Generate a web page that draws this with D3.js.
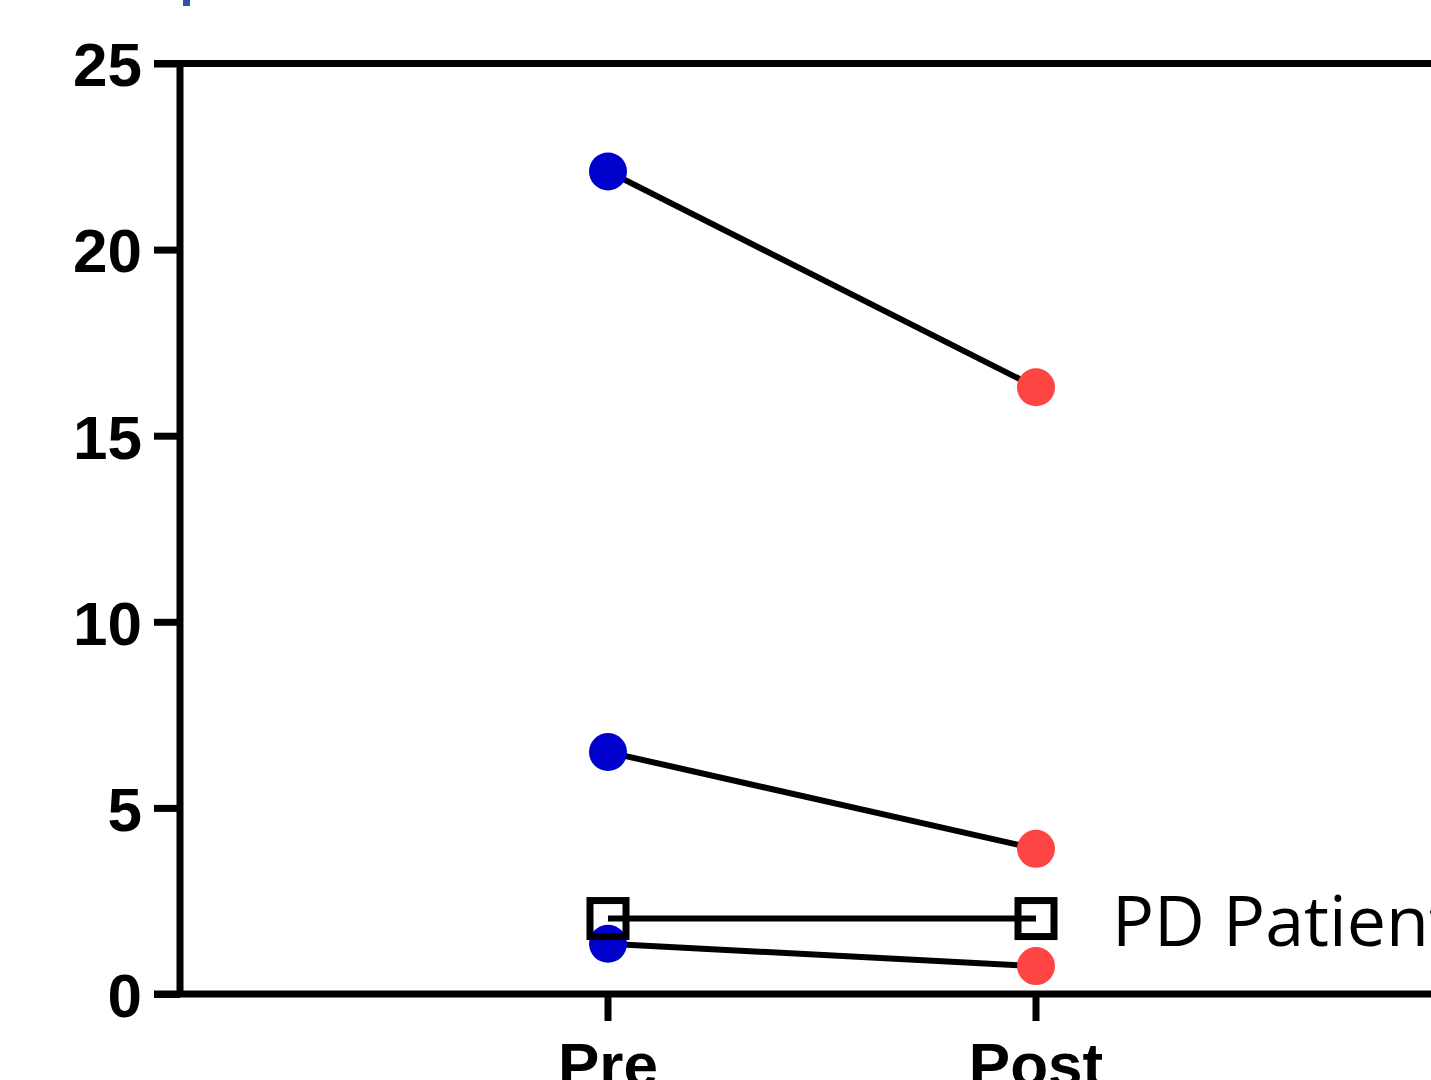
<!DOCTYPE html>
<html lang="en">
<head>
    <meta charset="UTF-8">
    <title>Pre vs Post</title>
    <script src="https://d3js.org/d3.v7.min.js"></script>
    <style>
        html, body { margin: 0; padding: 0; background: #fff; overflow: hidden; }
        svg { display: block; }
    </style>
</head>
<body>
    <div id="chart"></div>
    <script>
        // data
        var categories = ["Pre", "Post"];
        var preValues = [22.1, 6.5, 1.35];
        var postValues = [16.3, 3.9, 0.75];
        var yTicks = [0, 5, 10, 15, 20, 25];
        var legendLabel = "PD Patient";
        var legendLevel = 2.0;

        var width = 1431, height = 1080;

        var svg = d3.select("#chart").append("svg")
            .attr("width", width)
            .attr("height", height);

        // slot 0 = y axis, 1 = Pre, 2 = Post, 3 = right edge (off screen)
        var x = d3.scaleLinear().domain([0, 3]).range([180, 1464]);
        var y = d3.scaleLinear().domain([0, 25]).range([994, 63.5]);

        // small fragment of a title cut by the top edge
        svg.append("rect")
            .attr("x", 183).attr("y", 0)
            .attr("width", 7).attr("height", 6)
            .attr("fill", "#2e5597");

        // frame lines (top and bottom run off the right edge)
        svg.append("line")
            .attr("x1", 154).attr("x2", x(3))
            .attr("y1", y(25)).attr("y2", y(25))
            .attr("stroke", "#000").attr("stroke-width", 7);

        var yAxis = d3.axisLeft(y).tickValues(yTicks).tickSize(26).tickPadding(12);
        var gy = svg.append("g").attr("transform", "translate(" + x(0) + ",0)").call(yAxis);
        gy.select(".domain").attr("stroke-width", 7).attr("d", "M0," + (y(0) + 3) + "V" + (y(25) - 3));
        gy.selectAll(".tick line").attr("stroke-width", 7);
        gy.selectAll(".tick text")
            .attr("dy", "0.36em")
            .style("font-family", "'Liberation Sans', Arial, sans-serif")
            .style("font-weight", "bold")
            .style("font-size", "62px")
            .attr("fill", "#000");

        var xCat = d3.scaleOrdinal().domain(categories).range([x(1), x(2)]);
        var gx = svg.append("g").attr("transform", "translate(0," + y(0) + ")");
        gx.append("line")
            .attr("x1", 154).attr("x2", x(3))
            .attr("stroke", "#000").attr("stroke-width", 7);
        var xt = gx.selectAll(".xtick").data(categories).enter().append("g")
            .attr("transform", function (d) { return "translate(" + xCat(d) + ",0)"; });
        xt.append("line").attr("y1", 0).attr("y2", 27)
            .attr("stroke", "#000").attr("stroke-width", 7);
        xt.append("text")
            .attr("y", 92)
            .attr("text-anchor", "middle")
            .style("font-family", "'Liberation Sans', Arial, sans-serif")
            .style("font-weight", "bold")
            .style("font-size", "62px")
            .attr("fill", "#000")
            .text(function (d) { return d; });

        // paired lines
        var pairs = preValues.map(function (v, i) { return { pre: v, post: postValues[i] }; });
        svg.selectAll(".pair").data(pairs).enter().append("line")
            .attr("x1", xCat("Pre")).attr("x2", xCat("Post"))
            .attr("y1", function (d) { return y(d.pre); })
            .attr("y2", function (d) { return y(d.post); })
            .attr("stroke", "#000").attr("stroke-width", 6);

        svg.selectAll(".pre").data(preValues).enter().append("circle")
            .attr("cx", xCat("Pre")).attr("cy", function (d) { return y(d); })
            .attr("r", 19).attr("fill", "#0000cc");
        svg.selectAll(".post").data(postValues).enter().append("circle")
            .attr("cx", xCat("Post")).attr("cy", function (d) { return y(d); })
            .attr("r", 19).attr("fill", "#ff4444");

        // legend, sits on top of the plot
        var lg = svg.append("g");
        var ly = y(legendLevel) - 1;
        lg.append("line")
            .attr("x1", xCat("Pre")).attr("x2", xCat("Post"))
            .attr("y1", ly).attr("y2", ly)
            .attr("stroke", "#000").attr("stroke-width", 6);
        lg.selectAll("rect").data(categories).enter().append("rect")
            .attr("x", function (d) { return xCat(d) - 18; })
            .attr("y", ly - 18)
            .attr("width", 36).attr("height", 36)
            .attr("fill", "none").attr("stroke", "#000").attr("stroke-width", 7);
        lg.append("text")
            .attr("x", 1112).attr("y", ly + 27)
            .style("font-family", "'Open Sans', sans-serif")
            .style("font-size", "70px")
            .attr("fill", "#000")
            .text(legendLabel);
    </script>
</body>
</html>
